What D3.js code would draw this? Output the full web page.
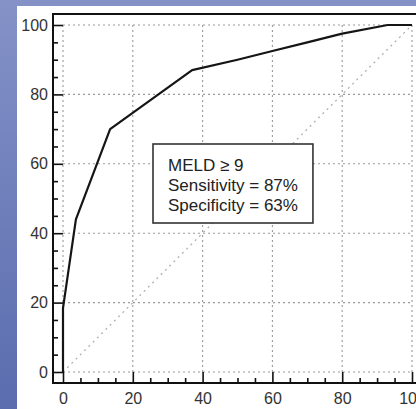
<!DOCTYPE html>
<html>
<head>
<meta charset="utf-8">
<script src="https://cdn.jsdelivr.net/npm/d3@7"></script>
<style>
html,body{margin:0;padding:0;overflow:hidden;}
svg{display:block;}
text{font-family:"Liberation Sans",Arial,sans-serif;}
</style>
</head>
<body>
<script>
// ---- data ----
const fpr = [0, 0, 3.7, 13.5, 37, 50, 60, 70, 80, 93, 100];   // 100 - specificity
const tpr = [0, 18.4, 44, 70, 87, 90, 92.5, 95, 97.5, 100, 100]; // sensitivity
const xTicks = [0, 20, 40, 60, 80, 100];
const yTicks = [0, 20, 40, 60, 80, 100];
const minorTicks = d3.range(0, 101, 5);
const boxLines = ["MELD \u2265 9", "Sensitivity = 87%", "Specificity = 63%"];

const W = 416, H = 409;
const svg = d3.select("body").append("svg").attr("width", W).attr("height", H);

// background
const defs = svg.append("defs");
const g1 = defs.append("linearGradient").attr("id","bg").attr("x1",0).attr("y1",0).attr("x2",0).attr("y2",1);
g1.append("stop").attr("offset","0%").attr("stop-color","#8592c8");
g1.append("stop").attr("offset","50%").attr("stop-color","#6f7fbb");
g1.append("stop").attr("offset","100%").attr("stop-color","#5a6cae");
svg.append("rect").attr("width",W).attr("height",H).attr("fill","url(#bg)");
svg.append("rect").attr("x",17).attr("y",6).attr("width",W-17).attr("height",H-6).attr("fill","#ffffff");

const x = d3.scaleLinear().domain([0,100]).range([63,412]);
const y = d3.scaleLinear().domain([0,100]).range([372,25]);
const off = 10;
const axX = x.range()[0] - off;   // y-axis line position
const axY = y.range()[0] + off + 1;   // x-axis line position
const topY = y.range()[1] - off - 1;

// grid
const grid = svg.append("g").attr("stroke","#9a9a9a").attr("stroke-width",1.1).attr("stroke-dasharray","2,3").attr("fill","none");
grid.selectAll(".gx").data(xTicks).join("line")
  .attr("x1",d=>x(d)).attr("x2",d=>x(d)).attr("y1",y(0)).attr("y2",y(100));
grid.selectAll(".gy").data(yTicks).join("line")
  .attr("y1",d=>y(d)).attr("y2",d=>y(d)).attr("x1",x(0)).attr("x2",x(100));

// diagonal
svg.append("line").attr("x1",x(0)).attr("y1",y(0)).attr("x2",x(100)).attr("y2",y(100))
  .attr("stroke","#aaaaaa").attr("stroke-width",1.2).attr("stroke-dasharray","2,4");

// ROC curve
const line = d3.line().x((d,i)=>x(fpr[i])).y((d,i)=>y(tpr[i]));
svg.append("path").datum(fpr).attr("d",line).attr("fill","none")
  .attr("stroke","#151515").attr("stroke-width",2.2).attr("stroke-linejoin","round");

// axes
const fs = 16;
const yAxis = svg.append("g").attr("transform",`translate(${axX},0)`)
  .call(d3.axisLeft(y).tickValues(yTicks).tickSizeInner(-off).tickSizeOuter(0).tickPadding(5));
const yMinor = svg.append("g").attr("transform",`translate(${axX},0)`)
  .call(d3.axisLeft(y).tickValues(minorTicks.filter(v=>v%20)).tickSizeInner(-5).tickSizeOuter(0).tickFormat(""));
const xAxis = svg.append("g").attr("transform",`translate(0,${axY})`)
  .call(d3.axisBottom(x).tickValues(xTicks).tickSizeInner(-off-1).tickSizeOuter(0).tickPadding(10));
const xMinor = svg.append("g").attr("transform",`translate(0,${axY})`)
  .call(d3.axisBottom(x).tickValues(minorTicks.filter(v=>v%20)).tickSizeInner(-5).tickSizeOuter(0).tickFormat(""));
[yAxis,yMinor,xAxis,xMinor].forEach(a=>{
  a.select(".domain").remove();
  a.selectAll(".tick line").attr("stroke","#111").attr("stroke-width",1.6);
  a.selectAll("text").attr("font-size",fs).attr("fill","#333").attr("font-family","Liberation Sans, Arial, sans-serif");
});

// frame lines
const frame = svg.append("g").attr("stroke","#111").attr("stroke-width",2);
frame.append("line").attr("x1",axX).attr("x2",axX).attr("y1",topY).attr("y2",axY+1);
frame.append("line").attr("x1",axX-1).attr("x2",W).attr("y1",axY).attr("y2",axY);
frame.append("line").attr("x1",axX-1).attr("x2",W).attr("y1",topY).attr("y2",topY);

// annotation box
const bx = 153, by = 144, bh = 79;
const box = svg.append("g");
const rect = box.append("rect").attr("x",bx).attr("y",by).attr("height",bh)
  .attr("fill","#fff").attr("stroke","#333").attr("stroke-width",1.6);
const txt = box.selectAll("text").data(boxLines).join("text")
  .attr("x",bx+15).attr("y",(d,i)=>by+27+i*20)
  .attr("font-size",17).attr("fill","#222").text(d=>d);
let maxW = 0; txt.each(function(){maxW=Math.max(maxW,this.getComputedTextLength());});
rect.attr("width",maxW+30);
</script>
</body>
</html>
